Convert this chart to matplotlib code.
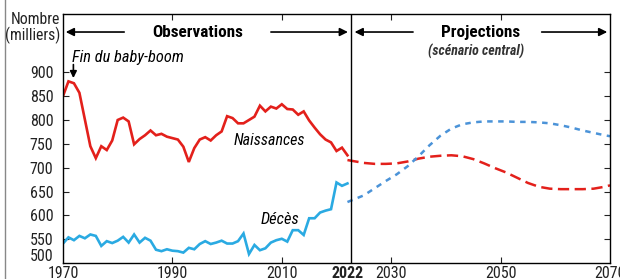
import matplotlib
matplotlib.use("Agg")
import matplotlib.pyplot as plt
import matplotlib.transforms as mtransforms
from matplotlib.lines import Line2D

plt.rcParams["font.family"] = ["Roboto Condensed", "DejaVu Sans"]

# observed data (thousands)
years_obs = list(range(1970, 2023))
naissances = [850, 881, 877, 857, 801, 745, 720, 745, 737, 757,
              800, 805, 797, 749, 760, 768, 778, 768, 771, 765,
              762, 759, 744, 712, 741, 759, 764, 757, 768, 776,
              808, 804, 793, 793, 800, 807, 830, 818, 828, 824,
              833, 823, 822, 811, 818, 799, 784, 770, 759, 753,
              735, 742, 726]
deces = [541, 554, 548, 557, 552, 560, 557, 536, 546, 542,
         547, 555, 543, 560, 543, 553, 547, 528, 525, 529,
         526, 525, 522, 532, 529, 540, 546, 540, 543, 547,
         541, 541, 546, 562, 519, 538, 527, 531, 543, 548,
         551, 545, 569, 569, 559, 594, 594, 606, 610, 613,
         669, 662, 667]

# projections, scénario central
years_proj = [2022, 2025, 2027, 2029, 2031, 2033, 2035, 2037, 2039, 2041,
              2043, 2045, 2047, 2049, 2051, 2053, 2055, 2057, 2059, 2061,
              2063, 2065, 2067, 2069, 2070]
naiss_proj = [716, 710, 708, 708, 709, 713, 719, 723, 725, 726,
              724, 718, 709, 699, 690, 679, 668, 660, 656, 655,
              655, 655, 656, 660, 663]
deces_proj = [628, 642, 657, 672, 686, 703, 724, 747, 767, 782,
              791, 795, 797, 797, 797, 796, 796, 795, 793, 789,
              784, 778, 773, 768, 766]

xticks = [1970, 1990, 2010, 2022, 2030, 2050, 2070]
yticks = [500, 550, 600, 650, 700, 750, 800, 850, 900]

red = "#e3201b"
blue_obs = "#2aaae2"
blue_proj = "#4b93d8"

fig = plt.figure(figsize=(6.2, 2.79), dpi=100)
ax = fig.add_axes([0.1016, 0.057, 0.8823, 0.8925])

ax.plot(years_obs, naissances, color=red, lw=1.9, solid_joinstyle="miter")
ax.plot(years_obs, deces, color=blue_obs, lw=1.9, solid_joinstyle="miter")
ax.plot(years_proj, naiss_proj, color=red, lw=1.8, dashes=(4.5, 2.2))
ax.plot(years_proj, deces_proj, color=blue_proj, lw=1.8, dashes=(2.2, 2.2))

ax.set_xlim(1970, 2070)
ax.set_ylim(500, 1022)
ax.axvline(2022.7, color="black", lw=1)

ax.set_xticks(xticks)
ax.set_xticklabels([str(x) for x in xticks])
for lab in ax.get_xticklabels():
    if lab.get_text() == "2022":
        lab.set_fontweight("bold")
ax.set_yticks(yticks)
ax.tick_params(axis="both", direction="in", length=4, width=0.8,
               labelsize=11.5, colors="#222222", top=True, right=True)
ax.tick_params(axis="x", pad=2)
ax.tick_params(axis="y", pad=7)
# hide tick marks at the axis ends and at 2022
for t, v in zip(ax.xaxis.get_major_ticks(), xticks):
    if v in (1970, 2022, 2070):
        t.tick1line.set_visible(False)
        t.tick2line.set_visible(False)
for t, v in zip(ax.yaxis.get_major_ticks(), yticks):
    if v == 500:
        t.tick1line.set_visible(False)
        t.tick2line.set_visible(False)
        # lift the lowest label a little, clear of 1970
        t.label1.set_transform(t.label1.get_transform() +
                               mtransforms.ScaledTranslation(0, 6 / 72, fig.dpi_scale_trans))
for s in ax.spines.values():
    s.set_linewidth(1)

# header labels and arrows
arrow = dict(arrowstyle="-|>", color="black", lw=1.2, mutation_scale=12)
tr = ("data", "axes fraction")
ay = 0.928
ax.annotate("", xy=(1970, ay), xytext=(1981.7, ay), xycoords=tr, arrowprops=arrow)
ax.annotate("", xy=(2022.6, ay), xytext=(2007.5, ay), xycoords=tr, arrowprops=arrow)
ax.annotate("", xy=(2022.8, ay), xytext=(2034.5, ay), xycoords=tr, arrowprops=arrow)
ax.annotate("", xy=(2070, ay), xytext=(2057.0, ay), xycoords=tr, arrowprops=arrow)
ax.text(1994.6, ay, "Observations", transform=ax.get_xaxis_transform(),
        ha="center", va="center", fontsize=12.3, fontweight="bold")
ax.text(2046.3, ay, "Projections", transform=ax.get_xaxis_transform(),
        ha="center", va="center", fontsize=12.3, fontweight="bold")
ax.text(2045.6, 0.851, "(scénario central)", transform=ax.get_xaxis_transform(),
        ha="center", va="center", fontsize=10, fontweight="bold",
        style="italic", color="#333333")

ax.text(1971.6, 932, "Fin du baby-boom", ha="left", va="center",
        fontsize=11.8, style="italic")
ax.annotate("", xy=(1971.9, 882), xytext=(1971.9, 922),
            arrowprops=dict(arrowstyle="-|>", color="black", lw=1.2,
                            mutation_scale=10))
ax.text(2007.7, 756, "Naissances", ha="center", va="center",
        fontsize=11.5, style="italic")
ax.text(2009.7, 591, "Décès", ha="center", va="center",
        fontsize=11.8, style="italic")

fig.text(0.0968, 0.958, "Nombre\n(milliers)", ha="right", va="top",
         fontsize=11.3, linespacing=1.0, color="#222222")

fig.add_artist(Line2D([0.008, 0.008], [0, 1], transform=fig.transFigure,
                      color="#888888", lw=1))

fig.savefig("out.png", dpi=100)
